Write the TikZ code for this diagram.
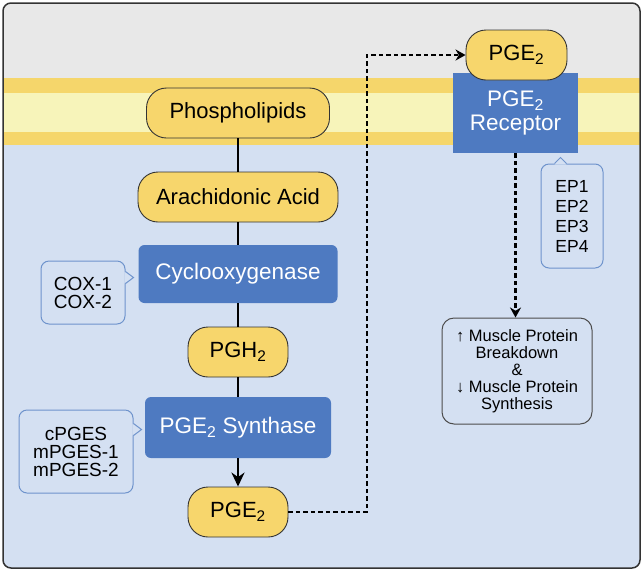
\documentclass[tikz,border=0pt]{standalone}
\usepackage{fontspec}
\setmainfont{Liberation Sans}
\usetikzlibrary{arrows.meta}

\definecolor{bgblue}{HTML}{D4E0F2}
\definecolor{topgray}{HTML}{E8E8E8}
\definecolor{band}{HTML}{F5D66B}
\definecolor{bandlight}{HTML}{F7F4BA}
\definecolor{lipid}{HTML}{F7D66C}
\definecolor{enzyme}{HTML}{4E7AC1}
\definecolor{callblue}{HTML}{6E93CC}

\begin{document}
\begin{tikzpicture}[x=1pt, y=-1pt, thick,
    mol/.style={draw=black!80, line width=0.9pt, fill=lipid, rounded corners=20pt, minimum height=50pt, inner sep=0pt, font=\fontsize{22}{25}\selectfont},
    enz/.style={fill=enzyme, text=white, rounded corners=6pt, inner sep=0pt, align=center, font=\fontsize{22.5}{24}\selectfont},
    note/.style={draw=callblue, line width=1pt, fill=bgblue, rounded corners=8pt, inner sep=0pt, align=center, font=\fontsize{19}{18}\selectfont},
    tab/.style={draw=callblue, line width=1pt},
    link/.style={line width=2.4pt},
    dashlink/.style={line width=2.3pt, dash pattern=on 4.5pt off 3pt, -{Stealth[length=10pt, width=11pt]}}]

    \useasboundingbox (0,0) rectangle (644,571);

    % cell background and membrane
    \begin{scope}
        \clip[rounded corners=8pt] (3,3) rectangle (640,568);
        \fill[bgblue] (0,0) rectangle (644,571);
        \fill[topgray] (0,0) rectangle (644,78);
        \fill[band] (0,78) rectangle (644,145);
        \fill[bandlight] (0,93) rectangle (644,132);
    \end{scope}
    \draw[line width=1.5pt, black!80, rounded corners=8pt] (3,3) rectangle (640,568);

    \node[mol, minimum width=183pt] at (238,113) (PL) {Phospholipids};
    \node[mol, minimum width=200pt] at (238,197) (AA) {Arachidonic Acid};
    \node[enz, minimum width=199pt, minimum height=58pt] at (238,274) (COX) {Cyclooxygenase};
    \node[mol, minimum width=100pt] at (238,352) (PGH) {PGH\textsubscript{2}};
    \node[enz, minimum width=186pt, minimum height=61pt] at (238,427.5) (SYN) {PGE\textsubscript{2} Synthase};
    \node[mol, minimum width=100pt] at (238,512) (PGE) {PGE\textsubscript{2}};

    \node[enz, rounded corners=0pt, minimum width=125pt, minimum height=80pt] at (515.5,113) (REC) {PGE\textsubscript{2}\\Receptor};
    \node[mol, minimum width=101pt] at (516.5,55) (PGEr) {PGE\textsubscript{2}};

    \node[note, minimum width=84pt, minimum height=63pt] at (83,292.5) (CX) {COX-1\\COX-2};
    \node[note, minimum width=114pt, minimum height=83pt] at (76,451.5) (CS) {cPGES\\mPGES-1\\mPGES-2};
    \node[note, minimum width=62pt, minimum height=104pt, font=\fontsize{17.5}{20}\selectfont] at (572,216) (EP) {EP1\\EP2\\EP3\\EP4};

    \node[draw=black!70, line width=1pt, rounded corners=12pt, minimum width=150pt, minimum height=106pt, align=center, inner sep=0pt, font=\fontsize{16.5}{17}\selectfont] at (517,371) (MP) {↑ Muscle Protein\\Breakdown\\\&\\↓ Muscle Protein\\Synthesis};

    % callout tabs
    \fill[bgblue] ([xshift=-1.2pt, yshift=-11pt]CX.north east) -- ++(9.2,6) -- ++(-9.2,6) -- cycle;
    \draw[tab] ([yshift=-11pt]CX.north east) -- ++(8,6) -- ++(-8,6);
    \fill[bgblue] ([xshift=-1.2pt, yshift=-14pt]CS.north east) -- ++(9.2,6) -- ++(-9.2,6) -- cycle;
    \draw[tab] ([yshift=-14pt]CS.north east) -- ++(8,6) -- ++(-8,6);
    \fill[bgblue] ([xshift=14pt, yshift=-1.2pt]EP.north west) -- ++(6,-7.2) -- ++(6,7.2) -- cycle;
    \draw[tab] ([xshift=14pt]EP.north west) -- ++(6,-6) -- ++(6,6);

    \draw[link] (PL) -- (AA);
    \draw[link] (AA) -- (COX);
    \draw[link] (COX) -- (PGH);
    \draw[link] (PGH) -- (SYN);
    \draw[link, -{Stealth[length=14pt, width=13pt]}] (SYN) -- (PGE);

    \coordinate (turn) at (367,55);
    \draw[dashlink] (PGE.east) -| (turn) -- (PGEr.west);
    \draw[dashlink] (REC.south) -- (REC.south |- MP.north);

\end{tikzpicture}
\end{document}
